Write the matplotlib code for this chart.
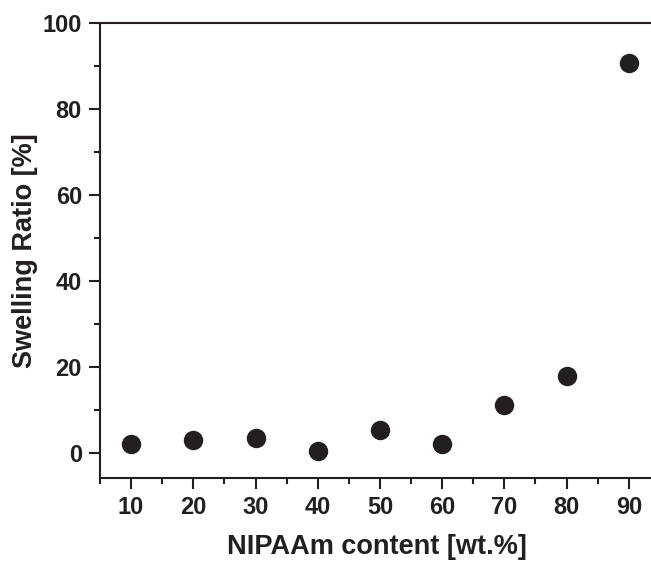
import matplotlib.pyplot as plt
from matplotlib.ticker import MultipleLocator

# NIPAAm content vs swelling ratio
nipaam = [10, 20, 30, 40, 50, 60, 70, 80, 90]
swelling = [2.2, 3.0, 3.6, 0.4, 5.3, 2.0, 11.2, 17.8, 90.6]

plt.rcParams['font.family'] = ['Liberation Sans', 'DejaVu Sans']
plt.rcParams['font.weight'] = 'bold'

ink = '#231f20'

fig = plt.figure(figsize=(6.51, 5.61), dpi=100)
ax = fig.add_axes([0.1536, 0.148, 0.860, 0.811])

ax.plot(nipaam, swelling, 'o', color=ink, markersize=14, markeredgewidth=0)

ax.set_xlim(5, 95)
ax.set_ylim(-5.8, 100)
ax.xaxis.set_major_locator(MultipleLocator(10))
ax.xaxis.set_minor_locator(MultipleLocator(5))
ax.yaxis.set_major_locator(MultipleLocator(20))
ax.yaxis.set_minor_locator(MultipleLocator(10))

for s in ax.spines.values():
    s.set_linewidth(1.5)
    s.set_color(ink)

ax.tick_params(which='major', direction='out', length=8, width=1.5,
               labelsize=17, colors=ink, top=False, right=False, pad=5)
ax.tick_params(which='minor', direction='out', length=4, width=1.5,
               colors=ink, top=False, right=False)
for lbl in ax.get_xticklabels() + ax.get_yticklabels():
    lbl.set_fontweight('bold')

ax.set_xlabel('NIPAAm content [wt.%]', fontsize=19.5, fontweight='bold',
              color=ink, va='center')
ax.set_ylabel('Swelling Ratio [%]', fontsize=19.5, fontweight='bold',
              color=ink, va='center')
ax.xaxis.set_label_coords(0.5 - 0.0, -0.152)
ax.yaxis.set_label_coords(-0.134, 0.5)
# x label is centred on the visible part of the axis, not the full axes width
ax.xaxis.label.set_x((377 - 100) / 560)

fig.savefig('out.png', dpi=100)
